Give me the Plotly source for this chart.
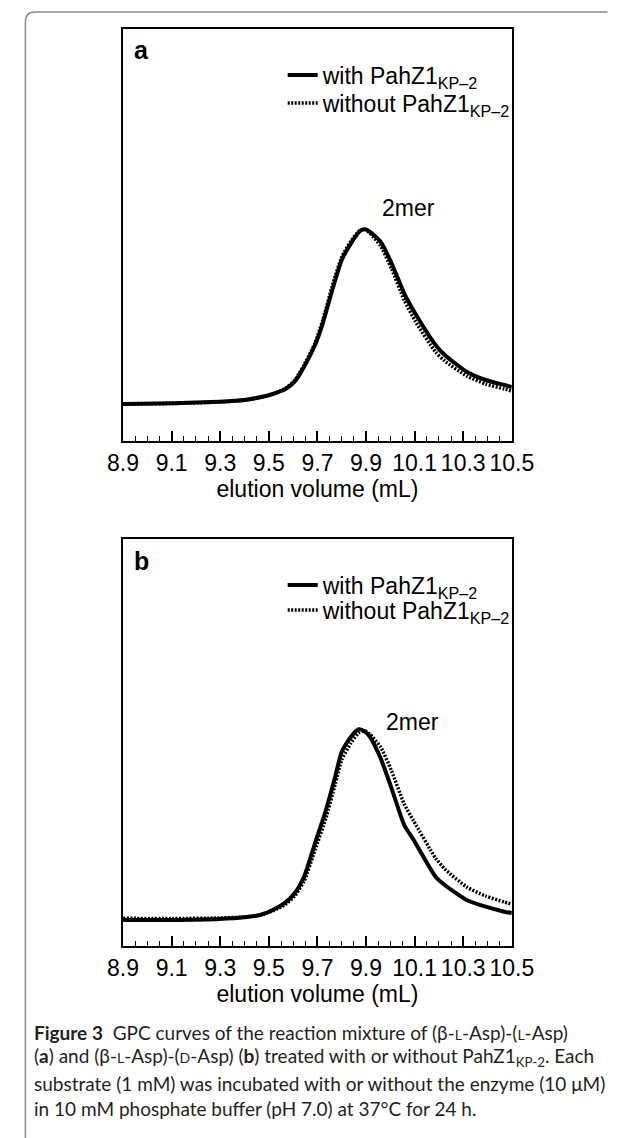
import plotly.graph_objects as go

W, H = 624, 1138

# ---------------- data ----------------
tick_values = [8.9, 9.1, 9.3, 9.5, 9.7, 9.9, 10.1, 10.3, 10.5]
tick_labels = ["8.9", "9.1", "9.3", "9.5", "9.7", "9.9", "10.1", "10.3", "10.5"]

# panel a: (beta-L-Asp)-(L-Asp)
xa = [8.9, 9.104, 9.297, 9.40, 9.464, 9.516, 9.567, 9.606, 9.645, 9.69, 9.722, 9.761, 9.80,
      9.838, 9.877, 9.896, 9.915, 9.96, 10.005, 10.057, 10.102, 10.186, 10.224, 10.314,
      10.392, 10.469, 10.5]
a_with = [37, 37.7, 39.3, 41, 43.7, 47, 51.7, 59.3, 74.3, 96, 117.7, 151, 181, 197.7, 210.3,
          211.7, 209.3, 199.3, 177.7, 147.7, 127.7, 96, 86, 69.3, 61, 56, 54]
a_without = [37, 37.5, 39, 41, 43.5, 47, 52.5, 60.5, 76, 98, 121, 155, 184, 200, 211, 211.5,
             208, 195, 172, 141, 120, 89, 80, 65, 57, 52, 50]

# panel b: (beta-L-Asp)-(D-Asp)
xb = [8.9, 9.104, 9.297, 9.40, 9.464, 9.516, 9.567, 9.606, 9.645, 9.69, 9.735, 9.773, 9.80,
      9.838, 9.870, 9.896, 9.915, 9.96, 10.005, 10.057, 10.096, 10.186, 10.224, 10.314,
      10.392, 10.469, 10.5]
b_with = [26, 26, 27, 28.7, 31, 36, 43.3, 52.7, 69.3, 102.7, 136, 169.3, 194.3, 209.3, 216.7,
          214.3, 209.3, 187.7, 157.7, 121, 106, 69.3, 61, 46, 39.3, 34.3, 33]
b_without = [27.7, 27.5, 28, 29, 31, 35, 41.5, 50, 65, 96, 128, 162, 186, 203, 213, 215, 212,
             199, 175, 142, 125, 88, 77, 59, 50, 44, 42]

name_with = "with PahZ1<sub>KP\u20132</sub>"
name_without = "without PahZ1<sub>KP\u20132</sub>"

# ---------------- helpers ----------------
def px_x(x):
    return x / W

def px_y(y):
    return 1 - y / H

FONT = "Liberation Sans, Arial, Helvetica, sans-serif"
CAP_FONT = "Lato, Open Sans, sans-serif"
FS = 23

fig = go.Figure()

solid = dict(color="black", width=4, shape="spline", smoothing=0.6)
dotted = dict(color="black", width=3.5, dash="2px,1.5px", shape="spline", smoothing=0.6)

fig.add_trace(go.Scatter(x=xa, y=a_without, mode="lines", line=dotted, name=name_without,
                         xaxis="x", yaxis="y", legend="legend2"))
fig.add_trace(go.Scatter(x=xa, y=a_with, mode="lines", line=solid, name=name_with,
                         xaxis="x", yaxis="y", legend="legend"))
fig.add_trace(go.Scatter(x=xb, y=b_without, mode="lines", line=dotted, name=name_without,
                         xaxis="x2", yaxis="y2", legend="legend4"))
fig.add_trace(go.Scatter(x=xb, y=b_with, mode="lines", line=solid, name=name_with,
                         xaxis="x2", yaxis="y2", legend="legend3"))

# panel pixel boxes
A_L, A_R, A_T, A_B = 114, 528, 29, 441
B_L, B_R, B_T, B_B = 114, 528, 539, 946

def xaxis_cfg(anchor):
    return dict(
        domain=[px_x(A_L), px_x(A_R)], anchor=anchor, range=[8.9, 10.5],
        tickmode="array", tickvals=tick_values, ticktext=tick_labels,
        ticks="inside", ticklen=10, tickwidth=1.5, tickcolor="black",
        minor=dict(ticks="inside", ticklen=5, tickwidth=1, tickcolor="black",
                   tickmode="linear", tick0=8.9, dtick=0.05, showgrid=False),
        showline=True, linewidth=2, linecolor="black", mirror=True,
        showgrid=False, zeroline=False,
        tickfont=dict(family=FONT, size=FS, color="black"),
        title=dict(text="elution volume (mL)", font=dict(family=FONT, size=FS, color="black"),
                   standoff=1),
    )

def yaxis_cfg(anchor, top, bottom):
    return dict(
        domain=[px_y(bottom), px_y(top)], anchor=anchor, range=[0, bottom - top],
        showline=True, linewidth=2, linecolor="black", mirror=True,
        showticklabels=False, ticks="", showgrid=False, zeroline=False,
    )

def legend_cfg(ypx):
    return dict(x=px_x(284), y=px_y(ypx), xanchor="left", yanchor="middle",
                bgcolor="rgba(0,0,0,0)", borderwidth=0,
                font=dict(family=FONT, size=FS, color="black"))

fig.update_layout(
    width=W, height=H, autosize=False,
    margin=dict(l=0, r=0, t=0, b=0),
    paper_bgcolor="white", plot_bgcolor="white",
    font=dict(family=FONT, size=FS, color="black"),
    xaxis=xaxis_cfg("y"),
    yaxis=yaxis_cfg("x", A_T, A_B),
    xaxis2=xaxis_cfg("y2"),
    yaxis2=yaxis_cfg("x2", B_T, B_B),
    legend=legend_cfg(75),
    legend2=legend_cfg(103),
    legend3=legend_cfg(585),
    legend4=legend_cfg(610),
    showlegend=True,
)

annotations = [
    dict(text="<b>a</b>", x=px_x(134), y=px_y(50), xref="paper", yref="paper",
         xanchor="center", yanchor="middle",
         showarrow=False, font=dict(family=FONT, size=25, color="black")),
    dict(text="<b>b</b>", x=px_x(134), y=px_y(561), xref="paper", yref="paper",
         xanchor="center", yanchor="middle",
         showarrow=False, font=dict(family=FONT, size=25, color="black")),
    dict(text="2mer", x=10.075, y=233, xref="x", yref="y", showarrow=False,
         xanchor="center", yanchor="middle",
         font=dict(family=FONT, size=FS, color="black")),
    dict(text="2mer", x=10.09, y=224, xref="x2", yref="y2", showarrow=False,
         xanchor="center", yanchor="middle",
         font=dict(family=FONT, size=FS, color="black")),
]

sc = "<span style='font-size:14px'>%s</span>"
caption_lines = [
    "<b>Figure 3</b>  GPC curves of the reaction mixture of (\u03b2-" + sc % "L" + "-Asp)-(" + sc % "L" + "-Asp)",
    "(<b>a</b>) and (\u03b2-" + sc % "L" + "-Asp)-(" + sc % "D" + "-Asp) (<b>b</b>) treated with or without PahZ1<sub>KP-2</sub>. Each",
    "substrate (1 mM) was incubated with or without the enzyme (10 \u03bcM)",
    "in 10 mM phosphate buffer (pH 7.0) at 37\u00b0C for 24 h.",
]
caption_y = [1032, 1057, 1083, 1108]
for line, yy in zip(caption_lines, caption_y):
    annotations.append(dict(text=line, x=px_x(17), y=px_y(yy), xref="paper", yref="paper",
                            xanchor="left", yanchor="middle", showarrow=False, align="left",
                            font=dict(family=CAP_FONT, size=19, color="#231f20")))
fig.update_layout(annotations=annotations)

# outer rounded frame (cut by the page edges)
fig.add_shape(type="path", xref="paper", yref="paper",
              path=f"M {px_x(10)},{px_y(1140)} L {px_x(10)},{px_y(22)} "
                   f"Q {px_x(10)},{px_y(12)} {px_x(20)},{px_y(12)} L {px_x(630)},{px_y(12)}",
              line=dict(color="#8a8a8a", width=1.5))

fig.write_html("out.html", config={"displayModeBar": False},
               post_script="document.body.style.margin='0px';")
